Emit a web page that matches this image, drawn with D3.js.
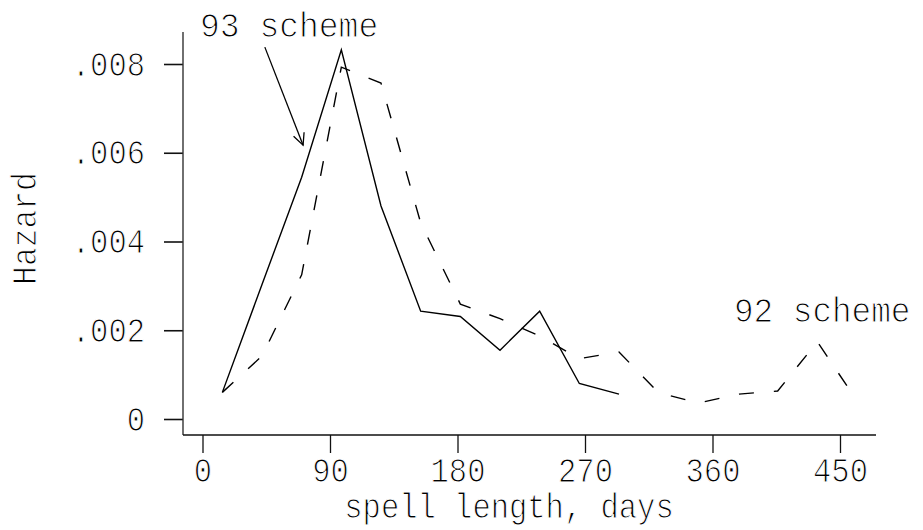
<!DOCTYPE html>
<html><head><meta charset="utf-8">
<script src="https://cdn.jsdelivr.net/npm/d3@7"></script>
<style>html,body{margin:0;padding:0;background:#fff;} svg{display:block}</style>
</head><body>
<script>
// ---- data ----
const days = [14,42,70,98,126,154,182,210,238,266,294,322,350,378,406,434,462];
const scheme93 = [0.0006,0.00303,0.00545,0.00832,0.0048,0.00243,0.00231,0.00155,0.00243,0.0008,0.00056];
const scheme92 = [0.0006,0.00142,0.00325,0.00793,0.00757,0.00442,0.00259,0.00226,0.00187,0.00136,0.00151,0.00059,0.00036,0.00056,0.00063,0.00174,0.00041];
const xTicks = [0,90,180,270,360,450];
const yTicks = [0,0.002,0.004,0.006,0.008];
const yTickLabels = ["0",".002",".004",".006",".008"];
const xTitle = "spell length, days";
const yTitle = "Hazard";
const label93 = "93 scheme";
const label92 = "92 scheme";
// arrow for the 93 label, in data units [days, hazard]
const arrowFrom = [44, 0.00838];
const arrowTo = [71, 0.00617];

// ---- layout ----
const W = 923, H = 530;
const FONT = "'Liberation Mono', 'DejaVu Sans Mono', monospace";
const FS = 35, ADV = 18.3;

const svg = d3.select("body").append("svg").attr("width", W).attr("height", H);
svg.append("rect").attr("width", W).attr("height", H).attr("fill", "#fff");
const x = d3.scaleLinear().domain([0, 450]).range([202.5, 840]);
const y = d3.scaleLinear().domain([0, 0.008]).range([419, 64]);
const axisX0 = 183, axisX1 = 876, axisYTop = 32, axisYBottom = 435;

function styleText(sel, adv) {
  sel.attr("font-family", FONT).attr("font-size", FS).attr("fill", "#000")
     .attr("stroke", "#fff").attr("stroke-width", 1.1)
     .attr("lengthAdjust", "spacingAndGlyphs")
     .attr("textLength", function() { return this.textContent.length * adv; });
}

// y axis
const gy = svg.append("g").attr("transform", `translate(${axisX0},0)`)
  .call(d3.axisLeft(y).tickValues(yTicks).tickFormat((d, i) => yTickLabels[i]).tickSize(19).tickPadding(19));
gy.select(".domain").remove();
gy.selectAll(".tick line").attr("stroke", "#111").attr("stroke-width", 1.6);
styleText(gy.selectAll(".tick text"), ADV);

// x axis
const gx = svg.append("g").attr("transform", `translate(0,${axisYBottom})`)
  .call(d3.axisBottom(x).tickValues(xTicks).tickFormat(d3.format("d")).tickSize(18).tickPadding(4));
gx.select(".domain").remove();
gx.selectAll(".tick line").attr("stroke", "#111").attr("stroke-width", 1.3);
styleText(gx.selectAll(".tick text"), ADV);

// axis lines
svg.append("line").attr("x1", axisX0).attr("x2", axisX0).attr("y1", axisYTop).attr("y2", axisYBottom)
  .attr("stroke", "#333").attr("stroke-width", 1.4);
svg.append("line").attr("x1", axisX0).attr("x2", axisX1).attr("y1", axisYBottom).attr("y2", axisYBottom)
  .attr("stroke", "#111").attr("stroke-width", 1.4);

// titles
svg.append("text").text(xTitle).attr("x", 509).attr("y", 518).attr("text-anchor", "middle").call(styleText, ADV);
svg.append("text").text(yTitle).attr("transform", "translate(36,228.5) rotate(-90)").attr("text-anchor", "middle").call(styleText, 18.8);

// lines
const line = d3.line().x(d => x(d[0])).y(d => y(d[1]));
const d93 = scheme93.map((v, i) => [days[i], v]);
const d92 = scheme92.map((v, i) => [days[i], v]);
svg.append("path").datum(d92).attr("d", line).attr("fill", "none").attr("stroke", "#000")
  .attr("stroke-width", 1.4).attr("stroke-dasharray", "15,20");
svg.append("path").datum(d93).attr("d", line).attr("fill", "none").attr("stroke", "#000")
  .attr("stroke-width", 1.4);

// annotations
svg.append("text").text(label93).attr("x", 200).attr("y", 37).call(styleText, 19.8);
svg.append("text").text(label92).attr("x", 734).attr("y", 322).call(styleText, 19.6);

const ax0 = x(arrowFrom[0]), ay0 = y(arrowFrom[1]), ax1 = x(arrowTo[0]), ay1 = y(arrowTo[1]);
svg.append("line").attr("x1", ax0).attr("y1", ay0).attr("x2", ax1).attr("y2", ay1)
  .attr("stroke", "#000").attr("stroke-width", 1.3);
const ang = Math.atan2(ay1 - ay0, ax1 - ax0), hl = 13, ha = Math.PI / 7;
const head = [
  [ax1 - hl * Math.cos(ang - ha), ay1 - hl * Math.sin(ang - ha)],
  [ax1, ay1],
  [ax1 - hl * Math.cos(ang + ha), ay1 - hl * Math.sin(ang + ha)]
];
svg.append("path").attr("d", d3.line()(head)).attr("fill", "none").attr("stroke", "#000").attr("stroke-width", 1.3);
</script>
</body></html>
